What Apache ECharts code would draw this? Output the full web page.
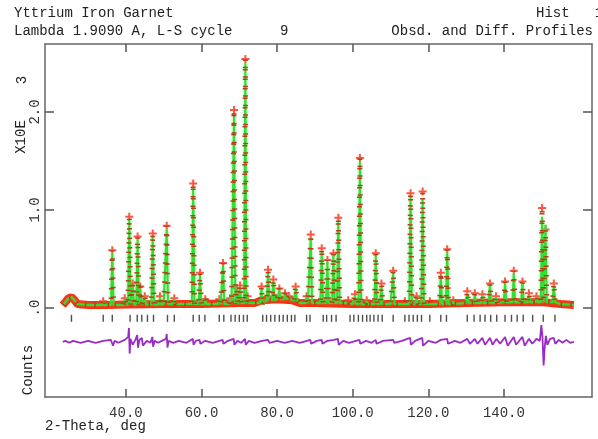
<!DOCTYPE html>
<html>
<head>
<meta charset="utf-8">
<script src="https://cdn.jsdelivr.net/npm/echarts@6/dist/echarts.min.js"></script>
<style>
html, body { margin: 0; padding: 0; background: #fff; }
#chart { width: 598px; height: 439px; }
</style>
</head>
<body>
<div id="chart"></div>
<script>
// peaks: 2-theta (deg), observed and calculated heights (x10E3 counts)
const peakPos = [34.0, 36.4, 39.7, 40.9, 41.8, 43.1, 43.8, 45.0, 47.1, 49.0, 50.8, 52.8,
  57.8, 59.6, 61.0, 64.7, 65.7, 67.6, 68.6, 69.3, 70.2, 71.6, 72.2, 75.9, 77.6, 79.0,
  80.6, 82.1, 83.2, 84.9, 87.8, 88.9, 91.8, 93.3, 94.9, 96.2, 98.8, 100.6, 101.9, 103.7,
  106.1, 107.6, 110.7, 113.8, 115.3, 116.9, 118.5, 120.4, 123.3, 125.0, 126.6, 130.3,
  132.3, 134.3, 136.3, 137.9, 140.3, 142.6, 144.9, 146.6, 148.6, 150.1, 151.0, 153.2];
const peakObs = [0.07, 0.59, 0.10, 0.93, 0.25, 0.73, 0.22, 0.12, 0.76, 0.12, 0.84, 0.10,
  1.27, 0.36, 0.09, 0.09, 0.46, 0.10, 2.02, 0.20, 0.23, 2.54, 0.12, 0.22, 0.39, 0.29,
  0.20, 0.15, 0.12, 0.22, 0.12, 0.75, 0.61, 0.49, 0.56, 0.92, 0.08, 0.14, 1.53, 0.08,
  0.56, 0.25, 0.38, 0.07, 1.17, 0.12, 1.19, 0.07, 0.36, 0.60, 0.08, 0.17,
  0.15, 0.14, 0.25, 0.12, 0.27, 0.38, 0.27, 0.15, 0.12, 1.02, 0.80, 0.25];
const peakCalc = [0.06, 0.56, 0.09, 0.90, 0.22, 0.70, 0.19, 0.11, 0.73, 0.10, 0.80, 0.09,
  1.22, 0.33, 0.08, 0.08, 0.43, 0.09, 1.97, 0.18, 0.21, 2.50, 0.11, 0.20, 0.36, 0.27,
  0.18, 0.14, 0.11, 0.20, 0.11, 0.72, 0.58, 0.47, 0.53, 0.88, 0.07, 0.12, 1.49, 0.07,
  0.53, 0.22, 0.35, 0.06, 1.14, 0.11, 1.12, 0.06, 0.33, 0.57, 0.07, 0.15,
  0.13, 0.13, 0.23, 0.11, 0.25, 0.35, 0.25, 0.13, 0.11, 0.93, 0.85, 0.23];

// background level (x10E3 counts)
const bgPos = [23.3, 24.0, 24.8, 25.6, 26.4, 27.2, 30, 35, 40, 50, 60, 70, 74, 76, 80, 84, 86,
  90, 100, 110, 120, 130, 140, 150, 155, 158.5];
const bgVal = [0.03, 0.06, 0.10, 0.11, 0.08, 0.04, 0.03, 0.03, 0.035, 0.04, 0.04, 0.05, 0.05,
  0.08, 0.09, 0.08, 0.05, 0.05, 0.04, 0.04, 0.04, 0.05, 0.06, 0.06, 0.04, 0.03];

// reflection positions (deg)
const reflPos = [25.6, 34.0, 36.4, 41.1, 43.0, 44.2, 45.7, 47.3, 51.0, 52.8, 57.8, 59.4, 60.9,
  64.7, 65.9, 67.8, 68.9, 70.0, 71.1, 72.1, 76.2, 77.2, 78.3, 79.4, 80.6, 81.6, 82.7, 83.8,
  84.7, 87.8, 88.7, 92.2, 93.1, 94.4, 95.6, 99.3, 100.3, 101.5, 102.6, 103.7, 104.6, 105.6,
  106.7, 107.8, 110.7, 113.8, 114.9, 116.0, 117.1, 118.2, 120.4, 123.3, 124.8, 130.3, 132.1,
  133.7, 135.0, 136.5, 138.1, 140.3, 142.0, 143.5, 145.1, 147.6, 150.4, 153.5];

// obs - calc difference (x10E3 counts)
const diffPos = [23.3, 24, 25, 26, 27, 28, 30, 32, 34, 36, 36.3, 36.6, 37, 38, 39.7, 40.6, 40.8,
  41.0, 41.2, 41.8, 42.5, 43.0, 43.2, 43.6, 44.2, 44.5, 45.5, 46.5, 47.0, 47.2, 47.6, 48.5,
  49.5, 50.6, 50.8, 51.0, 51.3, 52.5, 54, 56, 57.7, 57.9, 58.5, 59.5, 59.7, 61, 63, 65.6,
  65.8, 67, 68.5, 68.7, 69.5, 70.5, 71.5, 71.7, 72.5, 74, 76, 77.6, 78, 80, 82, 84, 86, 88.8,
  89, 90.5, 91.8, 92, 93.3, 95, 96.1, 96.3, 97.5, 99, 101.8, 102, 103.5, 105, 106.1, 106.3,
  108, 110.7, 111, 113, 115.2, 115.4, 116.5, 118.4, 118.6, 120, 122, 123.3, 125, 125.2, 127,
  128.5, 130.3, 131, 132.3, 133, 134.3, 135, 136.3, 137, 138, 139, 140.3, 141, 142.6, 143.2,
  144.9, 145.5, 146.6, 147.5, 148.6, 149.5, 149.9, 150.2, 150.5, 150.8, 151.1, 151.5, 152.2,
  153.2, 153.6, 154.5, 155.5, 156.5, 157.5, 158.5];
const diffVal = [0, 0.01, -0.01, 0.01, 0, -0.01, 0.01, -0.01, 0.01, 0.02, 0.04, -0.04, 0.01,
  -0.01, 0.02, 0.05, 0.14, -0.12, 0.03, -0.03, 0.02, 0.07, -0.06, 0.02, 0.04, -0.04, 0.01,
  -0.01, 0.05, -0.05, 0.01, -0.01, 0.01, 0.03, 0.08, -0.06, 0.01, -0.01, 0.01, -0.01, 0.03,
  -0.03, 0.01, 0.02, -0.02, 0.01, -0.01, 0.02, -0.02, 0.01, 0.03, -0.03, 0.01, -0.01, 0.03,
  -0.03, 0.01, -0.01, 0.01, 0.02, -0.01, 0.01, -0.01, 0.01, -0.01, 0.02, -0.02, 0.01, 0.02,
  -0.02, 0.01, 0.02, 0.03, -0.03, 0.01, -0.01, 0.02, -0.02, 0.01, -0.01, 0.02, -0.02, 0.01,
  0.02, -0.01, 0.01, 0.04, -0.03, 0.01, 0.04, -0.04, 0.01, -0.01, 0.02, 0.03, -0.02, 0.01,
  -0.01, 0.03, -0.02, 0.03, -0.02, 0.04, -0.03, 0.04, -0.03, 0.03, -0.02, 0.05, -0.04, 0.05,
  -0.03, 0.05, -0.04, 0.03, -0.02, 0.03, 0.01, 0.17, 0.05, -0.24, -0.05, 0.06, -0.03, 0.03,
  0.04, -0.02, 0.02, -0.01, 0.02, -0.01, 0];

// axis ticks
const xTicks = [40, 60, 80, 100, 120, 140];
const xTickLabels = ['40.0', '60.0', '80.0', '100.0', '120.0', '140.0'];
const yTicks = [0, 1, 2];
const yTickLabels = ['.0', '1.0', '2.0'];

const HW = 0.35;          // half width of a drawn peak, deg
const DIFF_OFFSET = -0.345;
const TICK_LEVEL = -0.105;
const FONT = '14px "Liberation Mono", monospace';

function bgAt(p) {
  let v = bgVal[0];
  for (let i = 0; i < bgPos.length; i++) if (bgPos[i] <= p) v = bgVal[i];
  return v;
}
function profile(heights) {
  const pts = bgPos.map((p, i) => [p, bgVal[i]]);
  peakPos.forEach((p, i) => {
    const b = bgAt(p);
    pts.push([p - HW, b], [p, heights[i]], [p + HW, b]);
  });
  return pts.sort((a, b) => a[0] - b[0]);
}

const chart = echarts.init(document.getElementById('chart'));
const axisLine = { show: true, onZero: false, lineStyle: { color: '#666', width: 1.5 } };
const tick = { show: true, inside: true, length: 8, lineStyle: { color: '#555', width: 1.5 } };

chart.setOption({
  animation: false,
  grid: { left: 45, right: 6, top: 44, bottom: 42, outerBoundsMode: 'none' },
  xAxis: [
    {
      type: 'value', min: 18.6, max: 163.3, position: 'bottom',
      axisLine: axisLine, splitLine: { show: false },
      axisTick: Object.assign({ customValues: xTicks }, tick),
      axisLabel: {
        customValues: xTicks, margin: 9, color: '#333',
        fontFamily: 'Liberation Mono', fontSize: 14,
        formatter: v => xTickLabels[xTicks.indexOf(v)]
      }
    },
    {
      type: 'value', min: 18.6, max: 163.3, position: 'top',
      axisLine: axisLine, splitLine: { show: false },
      axisTick: Object.assign({ customValues: xTicks }, tick),
      axisLabel: { show: false }
    }
  ],
  yAxis: [
    {
      type: 'value', min: -0.908, max: 2.694, position: 'left',
      axisLine: axisLine, splitLine: { show: false },
      axisTick: Object.assign({ customValues: yTicks }, tick, { length: 9 }),
      axisLabel: {
        customValues: yTicks, rotate: 90, margin: 3, color: '#333',
        fontFamily: 'Liberation Mono', fontSize: 14,
        formatter: v => yTickLabels[yTicks.indexOf(v)]
      }
    },
    {
      type: 'value', min: -0.908, max: 2.694, position: 'right',
      axisLine: axisLine, splitLine: { show: false },
      axisTick: Object.assign({ customValues: yTicks }, tick, { length: 9 }),
      axisLabel: { show: false }
    }
  ],
  series: [
    {
      name: 'obs band', type: 'line', showSymbol: false, silent: true,
      data: bgPos.map((p, i) => [p, bgVal[i]]),
      lineStyle: { color: '#ff2a10', width: 8 }
    },
    {
      name: 'calc', type: 'line', showSymbol: false, silent: true,
      data: profile(peakCalc),
      lineStyle: { color: '#30e030', width: 2, shadowColor: 'rgba(90,230,90,0.7)', shadowBlur: 3 }
    },
    {
      name: 'obs', type: 'line', showSymbol: false, silent: true,
      data: profile(peakObs),
      lineStyle: { color: '#b4401c', width: 5, type: [1.5, 8] }
    },
    {
      name: 'obs top', type: 'scatter', silent: true,
      symbol: 'path://M3,0h2v3h3v2h-3v3h-2v-3h-3v-2h3z', symbolSize: 8,
      data: peakPos.map((p, i) => [p, peakObs[i]]),
      itemStyle: { color: '#ff2a10' }
    },
    {
      name: 'reflections', type: 'scatter', silent: true,
      symbol: 'rect', symbolSize: [1.4, 7],
      data: reflPos.map(p => [p, TICK_LEVEL]),
      itemStyle: { color: '#222' }
    },
    {
      name: 'diff', type: 'line', showSymbol: false, silent: true,
      data: diffPos.map((p, i) => [p, diffVal[i] + DIFF_OFFSET]),
      lineStyle: { color: '#9a2cc4', width: 1.8 }
    }
  ],
  graphic: [
    { type: 'text', left: 14, top: 6, style: { text: 'Yttrium Iron Garnet', font: FONT, fill: '#222' } },
    { type: 'text', left: 536, top: 6, style: { text: 'Hist   1', font: FONT, fill: '#222' } },
    { type: 'text', left: 14, top: 24, style: { text: 'Lambda 1.9090 A, L-S cycle', font: FONT, fill: '#222' } },
    { type: 'text', left: 280, top: 24, style: { text: '9', font: FONT, fill: '#222' } },
    { type: 'text', right: 5, top: 24, style: { text: 'Obsd. and Diff. Profiles', font: FONT, fill: '#222' } },
    { type: 'text', x: 21, y: 137, rotation: Math.PI / 2,
      style: { text: 'X10E', font: FONT, fill: '#222', align: 'center', verticalAlign: 'middle' } },
    { type: 'text', x: 22, y: 80, rotation: Math.PI / 2,
      style: { text: '3', font: FONT, fill: '#222', align: 'center', verticalAlign: 'middle' } },
    { type: 'text', x: 28, y: 370, rotation: Math.PI / 2,
      style: { text: 'Counts', font: FONT, fill: '#222', align: 'center', verticalAlign: 'middle' } },
    { type: 'text', left: 45, top: 419, style: { text: '2-Theta, deg', font: FONT, fill: '#222' } }
  ]
});
</script>
</body>
</html>
